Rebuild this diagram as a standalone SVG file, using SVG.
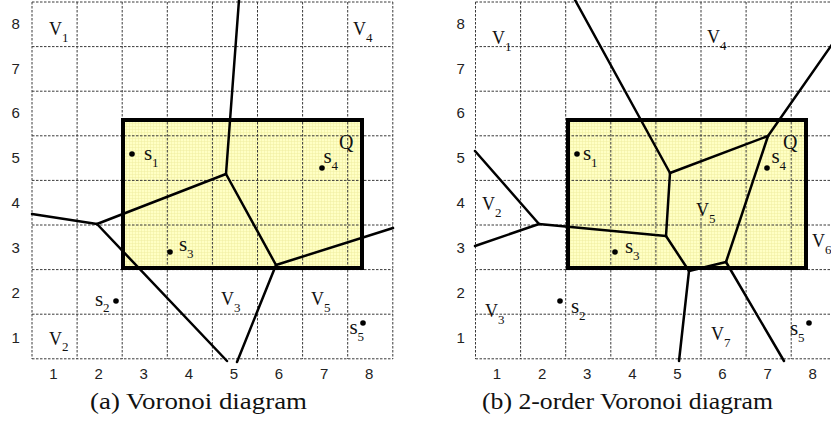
<svg xmlns="http://www.w3.org/2000/svg" width="831" height="422" viewBox="0 0 831 422">
<style>
.grid{stroke:#3a3a3a;stroke-width:1;stroke-dasharray:2.5 1.5;fill:none}
.q{fill:none;stroke:#000;stroke-width:4}
.edge{stroke:#000;stroke-width:2.5;fill:none;stroke-linecap:round;stroke-linejoin:round}
.ax{font-family:"Liberation Sans",Arial,sans-serif;font-size:15px;fill:#222;text-anchor:middle}
.lb{font-family:"Liberation Serif","Times New Roman",serif;font-size:18px;fill:#111}
.s{font-family:"Liberation Serif","Times New Roman",serif;font-size:21px;fill:#111}
.sub{font-family:"Liberation Serif","Times New Roman",serif;font-size:13px;fill:#111}
.cap{font-family:"Liberation Serif","Times New Roman",serif;font-size:24px;fill:#111}
.pt{fill:#000}
</style>
<defs>
<pattern id="fine" width="3" height="3" patternUnits="userSpaceOnUse">
<rect width="3" height="3" fill="#ffffc4"/>
<path d="M0 0.3H3M0.3 0V3" stroke="#f0eca0" stroke-width="0.6"/>
</pattern>
</defs>

<!-- Panel (a) -->
<g id="panel-a">
<rect id="qa-fill" x="123" y="120" width="239" height="148" fill="url(#fine)"/>
<g id="grid-a" class="grid">
<path d="M32 2V359M77.1 2V359M122.2 2V359M167.3 2V359M212.4 2V359M257.5 2V359M302.6 2V359M347.7 2V359M392.8 2V359"/>
<path d="M32 2H392.8M32 46.6H392.8M32 91.2H392.8M32 135.8H392.8M32 180.4H392.8M32 225H392.8M32 269.6H392.8M32 314.2H392.8M32 358.8H392.8"/>
</g>
<g id="axes-a" class="ax">
<text x="15.6" y="29">8</text><text x="15.6" y="74">7</text><text x="15.6" y="118">6</text><text x="15.6" y="163">5</text>
<text x="15.6" y="208">4</text><text x="15.6" y="253">3</text><text x="15.6" y="298">2</text><text x="15.6" y="343">1</text>
<text x="53.5" y="379">1</text><text x="98.6" y="379">2</text><text x="143.7" y="379">3</text><text x="188.8" y="379">4</text>
<text x="233.9" y="379">5</text><text x="279" y="379">6</text><text x="324.1" y="379">7</text><text x="369.2" y="379">8</text>
</g>
<g id="Qa"><rect class="q" x="123" y="120" width="239" height="148"/><text class="lb" x="339" y="149" style="font-size:20px">Q</text></g>
<g id="edges-a" class="edge">
<path d="M239 0L226 174"/>
<path d="M226 174L97 224"/>
<path d="M32 214L97 224"/>
<path d="M97 224L227 361"/>
<path d="M226 174L276 265"/>
<path d="M276 265L393 228"/>
<path d="M276 265L237 362"/>
</g>
<g id="sites-a">
<g id="a-s1"><circle class="pt" cx="132" cy="154" r="2.8"/><text class="s" x="144" y="160">s</text><text class="sub" x="152" y="167">1</text></g>
<g id="a-s2"><circle class="pt" cx="116" cy="301" r="2.8"/><text class="s" x="95" y="306">s</text><text class="sub" x="103" y="312">2</text></g>
<g id="a-s3"><circle class="pt" cx="170" cy="252" r="2.8"/><text class="s" x="179" y="251">s</text><text class="sub" x="187" y="258">3</text></g>
<g id="a-s4"><circle class="pt" cx="322" cy="168" r="2.8"/><text class="s" x="323.5" y="163">s</text><text class="sub" x="331.5" y="170">4</text></g>
<g id="a-s5"><circle class="pt" cx="363" cy="323" r="2.8"/><text class="s" x="349.5" y="334">s</text><text class="sub" x="357.5" y="341">5</text></g>
</g>
<g id="cells-a">
<g id="a-V1"><text class="lb" x="49" y="35">V</text><text class="sub" x="62" y="42">1</text></g>
<g id="a-V4"><text class="lb" x="353" y="35">V</text><text class="sub" x="366" y="42">4</text></g>
<g id="a-V2"><text class="lb" x="49" y="345">V</text><text class="sub" x="62" y="351">2</text></g>
<g id="a-V3"><text class="lb" x="221" y="305">V</text><text class="sub" x="234" y="312">3</text></g>
<g id="a-V5"><text class="lb" x="311" y="305">V</text><text class="sub" x="324" y="312">5</text></g>
</g>
<text id="cap-a" class="cap" x="90" y="409" textLength="217" lengthAdjust="spacingAndGlyphs">(a) Voronoi diagram</text>
</g>

<!-- Panel (b) -->
<g id="panel-b">
<rect id="qb-fill" x="568" y="120" width="238" height="148" fill="url(#fine)"/>
<g id="grid-b" class="grid">
<path d="M475.5 2V359M520.6 2V359M565.7 2V359M610.8 2V359M655.9 2V359M701 2V359M746.1 2V359M791.2 2V359"/>
<path d="M475.5 2H836M475.5 46.6H836M475.5 91.2H836M475.5 135.8H836M475.5 180.4H836M475.5 225H836M475.5 269.6H836M475.5 314.2H836M475.5 358.8H836"/>
</g>
<g id="axes-b" class="ax">
<text x="460.7" y="29">8</text><text x="460.7" y="74">7</text><text x="460.7" y="118">6</text><text x="460.7" y="163">5</text>
<text x="460.7" y="208">4</text><text x="460.7" y="253">3</text><text x="460.7" y="298">2</text><text x="460.7" y="343">1</text>
<text x="497" y="379">1</text><text x="542.1" y="379">2</text><text x="587.2" y="379">3</text><text x="632.3" y="379">4</text>
<text x="677.4" y="379">5</text><text x="722.5" y="379">6</text><text x="767.6" y="379">7</text><text x="812.7" y="379">8</text>
</g>
<g id="Qb"><rect class="q" x="568" y="120" width="238" height="148"/><text class="lb" x="783" y="149" style="font-size:20px">Q</text></g>
<g id="edges-b" class="edge">
<path d="M575 0L670 173"/>
<path d="M670 173L768 136"/>
<path d="M768 136L833 43"/>
<path d="M768 136L726 262"/>
<path d="M670 173L666 236"/>
<path d="M666 236L539 224"/>
<path d="M539 224L475 151"/>
<path d="M539 224L475 246"/>
<path d="M666 236L689 271"/>
<path d="M689 271L726 262"/>
<path d="M689 271L679 361"/>
<path d="M726 262L784 361"/>
</g>
<g id="sites-b">
<g id="b-s1"><circle class="pt" cx="577" cy="154" r="2.8"/><text class="s" x="583" y="160">s</text><text class="sub" x="591" y="167">1</text></g>
<g id="b-s2"><circle class="pt" cx="560" cy="301" r="2.8"/><text class="s" x="571" y="313">s</text><text class="sub" x="579" y="320">2</text></g>
<g id="b-s3"><circle class="pt" cx="615" cy="252" r="2.8"/><text class="s" x="625" y="253">s</text><text class="sub" x="633" y="260">3</text></g>
<g id="b-s4"><circle class="pt" cx="767" cy="168" r="2.8"/><text class="s" x="771.5" y="163">s</text><text class="sub" x="779.5" y="170">4</text></g>
<g id="b-s5"><circle class="pt" cx="809" cy="323" r="2.8"/><text class="s" x="790" y="335">s</text><text class="sub" x="798" y="342">5</text></g>
</g>
<g id="cells-b">
<g id="b-V1"><text class="lb" x="492" y="44">V</text><text class="sub" x="505" y="51">1</text></g>
<g id="b-V4"><text class="lb" x="707" y="43">V</text><text class="sub" x="720" y="50">4</text></g>
<g id="b-V2"><text class="lb" x="482" y="210">V</text><text class="sub" x="495" y="217">2</text></g>
<g id="b-V3"><text class="lb" x="485" y="317">V</text><text class="sub" x="498" y="324">3</text></g>
<g id="b-V5"><text class="lb" x="696" y="216">V</text><text class="sub" x="709" y="223">5</text></g>
<g id="b-V6"><text class="lb" x="812" y="247">V</text><text class="sub" x="825" y="254">6</text></g>
<g id="b-V7"><text class="lb" x="711" y="340">V</text><text class="sub" x="724" y="347">7</text></g>
</g>
<text id="cap-b" class="cap" x="482" y="409" textLength="291" lengthAdjust="spacingAndGlyphs">(b) 2-order Voronoi diagram</text>
</g>
</svg>
